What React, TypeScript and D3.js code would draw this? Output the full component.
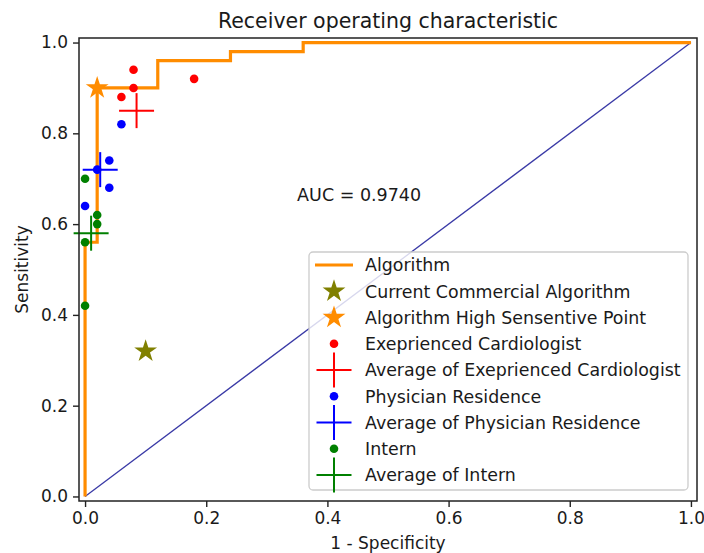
import React, { useEffect, useRef } from "react";
import * as d3 from "d3";

// ROC curve of the algorithm (step points)
const rocFpr = [0, 0, 0.02, 0.02, 0.12, 0.12, 0.24, 0.24, 0.36, 0.36, 1];
const rocTpr = [0, 0.56, 0.56, 0.9, 0.9, 0.96, 0.96, 0.98, 0.98, 1, 1];

const commercialPoint = [0.1, 0.32];
const highSensPoint = [0.02, 0.9];

const cardioX = [0.08, 0.08, 0.06, 0.18];
const cardioY = [0.94, 0.9, 0.88, 0.92];
const cardioAvg = [0.085, 0.85];

const residentX = [0.06, 0.04, 0.02, 0.04, 0.0];
const residentY = [0.82, 0.74, 0.72, 0.68, 0.64];
const residentAvg = [0.025, 0.72];

const internX = [0.0, 0.02, 0.02, 0.0, 0.0];
const internY = [0.7, 0.62, 0.6, 0.56, 0.42];
const internAvg = [0.01, 0.58];

const ticks = [0, 0.2, 0.4, 0.6, 0.8, 1.0];
const aucLabel = "AUC = 0.9740";

const legendLabels = [
	"Algorithm",
	"Current Commercial Algorithm",
	"Algorithm High Sensentive Point",
	"Exeprienced Cardiologist",
	"Average of Exeprienced Cardiologist",
	"Physician Residence",
	"Average of Physician Residence",
	"Intern",
	"Average of Intern",
];

const FONT = "DejaVu Sans, sans-serif";
const TXT = "#1a1a1a";

// 5-point star like matplotlib's '*'
const starPath = (cx: number, cy: number, R: number) => {
	const r = R * 0.382;
	const pts: string[] = [];
	for (let i = 0; i < 10; i++) {
		const rad = i % 2 === 0 ? R : r;
		const a = -Math.PI / 2 + (i * Math.PI) / 5;
		pts.push(`${cx + rad * Math.cos(a)},${cy + rad * Math.sin(a)}`);
	}
	return "M" + pts.join("L") + "Z";
};

const App = () => {
	const ref = useRef<SVGSVGElement>(null);

	useEffect(() => {
		const width = 704;
		const height = 553;
		const plot = { left: 79, right: 697, top: 38, bottom: 501 };

		const x = d3.scaleLinear().domain([-0.01, 1.01]).range([plot.left, plot.right]);
		const y = d3.scaleLinear().domain([-0.01, 1.01]).range([plot.bottom, plot.top]);

		const svg = d3.select(ref.current);
		svg.selectAll("*").remove();
		svg.attr("width", width).attr("height", height);

		svg.append("rect").attr("width", width).attr("height", height).attr("fill", "white");

		// diagonal
		svg
			.append("line")
			.attr("x1", x(0))
			.attr("y1", y(0))
			.attr("x2", x(1))
			.attr("y2", y(1))
			.attr("stroke", "#3a3aa6")
			.attr("stroke-width", 1.3);

		// ROC line
		const line = d3
			.line<number>()
			.x((d) => x(rocFpr[d]))
			.y((d) => y(rocTpr[d]));
		svg
			.append("path")
			.datum(d3.range(rocFpr.length))
			.attr("fill", "none")
			.attr("stroke", "#ff8c00")
			.attr("stroke-width", 3.2)
			.attr("d", line);

		// stars
		svg.append("path").attr("d", starPath(x(commercialPoint[0]), y(commercialPoint[1]), 12)).attr("fill", "#808000");
		svg.append("path").attr("d", starPath(x(highSensPoint[0]), y(highSensPoint[1]), 12)).attr("fill", "#ff8c00");

		const dots = (xs: number[], ys: number[], color: string) => {
			svg
				.append("g")
				.selectAll("circle")
				.data(xs)
				.join("circle")
				.attr("cx", (d) => x(d))
				.attr("cy", (_, i) => y(ys[i]))
				.attr("r", 4.3)
				.attr("fill", color);
		};
		const cross = (cx: number, cy: number, color: string) => {
			const g = svg.append("g").attr("stroke", color).attr("stroke-width", 2);
			g.append("line").attr("x1", cx - 17.5).attr("x2", cx + 17.5).attr("y1", cy).attr("y2", cy);
			g.append("line").attr("x1", cx).attr("x2", cx).attr("y1", cy - 17.5).attr("y2", cy + 17.5);
		};

		dots(cardioX, cardioY, "red");
		cross(x(cardioAvg[0]), y(cardioAvg[1]), "red");
		dots(residentX, residentY, "blue");
		cross(x(residentAvg[0]), y(residentAvg[1]), "blue");
		dots(internX, internY, "green");
		cross(x(internAvg[0]), y(internAvg[1]), "green");

		// AUC text
		svg
			.append("text")
			.attr("x", x(0.35))
			.attr("y", y(0.65))
			.attr("font-family", FONT)
			.attr("font-size", 17.5)
			.attr("fill", TXT)
			.text(aucLabel);

		// spines
		svg
			.append("rect")
			.attr("x", plot.left)
			.attr("y", plot.top)
			.attr("width", plot.right - plot.left)
			.attr("height", plot.bottom - plot.top)
			.attr("fill", "none")
			.attr("stroke", "#222")
			.attr("stroke-width", 1.5);

		const xAxis = svg
			.append("g")
			.attr("transform", `translate(0,${plot.bottom})`)
			.call(d3.axisBottom(x).tickValues(ticks).tickFormat(d3.format(".1f")).tickSize(6).tickPadding(5));
		const yAxis = svg
			.append("g")
			.attr("transform", `translate(${plot.left},0)`)
			.call(d3.axisLeft(y).tickValues(ticks).tickFormat(d3.format(".1f")).tickSize(6).tickPadding(5));
		[xAxis, yAxis].forEach((a) => {
			a.select(".domain").remove();
			a.selectAll("line").attr("stroke", "#222").attr("stroke-width", 1.4);
			a.selectAll("text").attr("font-family", FONT).attr("font-size", 17).attr("fill", TXT);
		});

		// title and labels
		svg
			.append("text")
			.attr("x", (plot.left + plot.right) / 2)
			.attr("y", 28)
			.attr("text-anchor", "middle")
			.attr("font-family", FONT)
			.attr("font-size", 20.5)
			.attr("fill", TXT)
			.text("Receiver operating characteristic");
		svg
			.append("text")
			.attr("x", (plot.left + plot.right) / 2)
			.attr("y", 549)
			.attr("text-anchor", "middle")
			.attr("font-family", FONT)
			.attr("font-size", 17)
			.attr("fill", TXT)
			.text("1 - Specificity");
		svg
			.append("text")
			.attr("transform", `translate(28,${(plot.top + plot.bottom) / 2}) rotate(-90)`)
			.attr("text-anchor", "middle")
			.attr("font-family", FONT)
			.attr("font-size", 17)
			.attr("fill", TXT)
			.text("Sensitivity");

		// legend
		const leg = svg.append("g");
		leg
			.append("rect")
			.attr("x", 309)
			.attr("y", 252)
			.attr("width", 379)
			.attr("height", 238)
			.attr("rx", 4)
			.attr("fill", "white")
			.attr("fill-opacity", 0.8)
			.attr("stroke", "#cccccc")
			.attr("stroke-width", 1.3);

		const rowY = d3.scaleLinear().domain([0, legendLabels.length - 1]).range([265, 475]);
		const hx = 334;
		legendLabels.forEach((label, i) => {
			const cy = rowY(i);
			if (i === 0) {
				leg.append("line").attr("x1", hx - 19).attr("x2", hx + 19).attr("y1", cy).attr("y2", cy).attr("stroke", "#ff8c00").attr("stroke-width", 3.2);
			} else if (i === 1 || i === 2) {
				leg.append("path").attr("d", starPath(hx, cy, 12)).attr("fill", i === 1 ? "#808000" : "#ff8c00");
			} else {
				const color = ["red", "blue", "green"][Math.floor((i - 3) / 2)];
				if ((i - 3) % 2 === 0) {
					leg.append("circle").attr("cx", hx).attr("cy", cy).attr("r", 4.3).attr("fill", color);
				} else {
					leg.append("line").attr("x1", hx - 17.5).attr("x2", hx + 17.5).attr("y1", cy).attr("y2", cy).attr("stroke", color).attr("stroke-width", 2);
					leg.append("line").attr("x1", hx).attr("x2", hx).attr("y1", cy - 17.5).attr("y2", cy + 17.5).attr("stroke", color).attr("stroke-width", 2);
				}
			}
			leg
				.append("text")
				.attr("x", 365)
				.attr("y", cy)
				.attr("dy", "0.36em")
				.attr("font-family", FONT)
				.attr("font-size", 17.4)
				.attr("fill", TXT)
				.text(label);
		});
	}, []);

	return (
		<div style={{ position: "absolute", left: 0, top: 0 }}>
			<svg ref={ref}></svg>
		</div>
	);
};

export default App;
